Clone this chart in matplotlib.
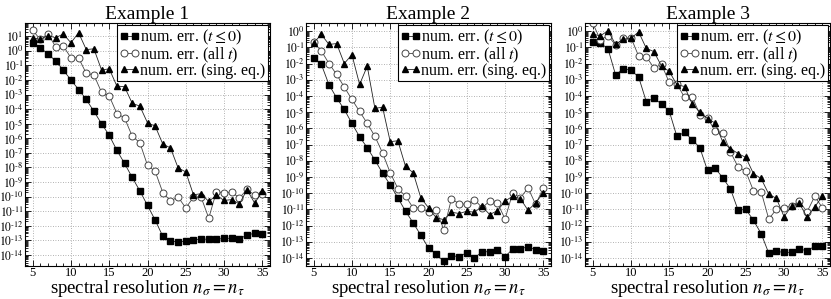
import numpy as np
import matplotlib.pyplot as plt
from matplotlib.ticker import FixedLocator, LogLocator, MultipleLocator, NullFormatter

plt.rcParams['font.family'] = ['Liberation Serif', 'DejaVu Serif']
plt.rcParams['mathtext.fontset'] = 'stix'

n = np.arange(5, 36)

# ---- Example 1 ----
ex1_neg = [3.5e0, 1.6e0, 6e-1, 2e-1, 4.7e-2, 1e-2, 2.2e-3, 4.6e-4, 7e-5, 1e-5,
           1.6e-6, 1.5e-7, 1.9e-8, 2.1e-9, 2.5e-10, 2.5e-11, 2.5e-12, 1.9e-13, 9e-14, 8e-14,
           9e-14, 1.05e-13, 1.25e-13, 1.2e-13, 1.2e-13, 1.4e-13, 1.4e-13, 1.2e-13, 2.5e-13, 3e-13,
           2.8e-13]
ex1_all = [2.5e1, 5.9e0, 1.4e1, 1.9e0, 2.1e0, 3.3e-1, 3.2e-1, 2.8e-2, 2.2e-2, 1.4e-3,
           8e-4, 5e-5, 2.5e-5, 1.4e-6, 5e-7, 1.4e-8, 5.5e-9, 1.9e-10, 5.2e-11, 9.3e-11,
           1.7e-11, 9e-11, 9.3e-11, 3.4e-12, 2.2e-10, 1.8e-10, 2.1e-10, 8e-11, 3.2e-10, 1.25e-10,
           1.6e-10]
ex1_sing = [7.8e0, 5.9e0, 1.1e1, 7.8e0, 1.4e1, 3.5e0, 1.7e1, 1.2e0, 1.35e0, 4.7e-2,
            5.8e-2, 3.8e-3, 3.4e-3, 2.5e-4, 1.6e-4, 1.15e-5, 6.9e-6, 4e-7, 2.2e-7, 9.3e-9,
            5e-9, 1.35e-10, 1.6e-10, 4.7e-11, 1.25e-10, 5.5e-11, 6.3e-11, 3.2e-11, 3e-10, 3.6e-11,
            2.3e-10]

# ---- Example 2 ----
ex2_neg = [2.3e-2, 8.9e-3, 4.9e-4, 7.6e-5, 1.45e-5, 2e-6, 3e-7, 6.3e-8, 1.1e-8, 1.7e-9,
           3.2e-10, 5.1e-11, 7.6e-12, 1.45e-12, 2.5e-13, 4.1e-14, 1.7e-14, 6e-15, 1.35e-14, 1.2e-14,
           2.1e-14, 1e-14, 2.4e-14, 2.4e-14, 3.2e-14, 1.2e-14, 3.5e-14, 3.8e-14, 4.7e-14, 3.2e-14,
           2.8e-14]
ex2_all = [2e-1, 6e-2, 1e-2, 2.1e-3, 3.5e-4, 6e-5, 1.1e-5, 2e-6, 3.2e-7, 3e-8,
           1.8e-9, 1.9e-10, 6.5e-11, 1.2e-11, 1.25e-11, 7e-12, 9e-12, 5.6e-13, 4.5e-11, 2.2e-11,
           2e-11, 4e-11, 1.25e-11, 3.2e-11, 2.5e-11, 2.5e-12, 1.05e-10, 5e-11, 2.1e-10, 2e-11,
           2.1e-10]
ex2_sing = [1.9e-1, 6.2e-1, 1.5e-1, 1.7e-1, 1e-2, 3.5e-2, 5.1e-4, 6.8e-3, 1.7e-5, 2e-5,
            1.5e-7, 1.7e-7, 4.4e-9, 1.8e-9, 5.1e-11, 1.25e-11, 3e-12, 2.3e-12, 6.6e-12, 5.5e-12,
            7.6e-12, 6.6e-12, 1.5e-11, 4.7e-12, 8.3e-12, 3.2e-11, 6.5e-11, 4.5e-11, 8.7e-12, 2.5e-11,
            1.05e-10]

# ---- Example 3 ----
ex3_neg = [2.1e-1, 1.8e-1, 8.3e-2, 1.95e-3, 4.9e-3, 3.8e-3, 1.5e-3, 4.5e-5, 7e-5, 3.2e-5,
           1.15e-5, 3.2e-7, 5.6e-7, 2e-7, 6.3e-8, 2.5e-9, 3.5e-9, 8.7e-10, 1.8e-10, 8.7e-12,
           1e-11, 2.1e-12, 3.2e-13, 1.95e-14, 2.5e-14, 2.2e-14, 2.2e-14, 3.5e-14, 2.8e-14, 5.1e-14,
           5.6e-14]
ex3_all = [3.2e0, 2.9e-1, 5.1e-1, 1.4e-1, 3.5e-1, 4e-1, 2.9e-2, 2.6e-2, 5.4e-3, 8.7e-3,
           6.8e-4, 5.6e-4, 8e-5, 9e-5, 7e-6, 4.5e-6, 6.5e-7, 5.4e-7, 3.5e-8, 4e-9,
           2.2e-9, 1.4e-10, 1.25e-10, 2.5e-12, 1e-11, 1.25e-11, 1.6e-11, 3.2e-11, 6.8e-12, 6.3e-11,
           1.25e-11]
ex3_sing = [6.5e-1, 5.1e-1, 1.05e0, 1.5e-1, 3.2e-1, 3.5e-1, 9e-1, 8.7e-2, 5.4e-2, 6.8e-3,
            3.3e-3, 4.9e-4, 3.8e-4, 3.2e-5, 1e-5, 4e-6, 2.1e-6, 1.4e-7, 5.6e-8, 2.75e-8,
            1.6e-8, 1.6e-9, 8e-10, 8.7e-11, 4.7e-11, 3.5e-12, 1.6e-11, 2.3e-11, 3.3e-12, 1.4e-11,
            6.3e-11]

titles = ['Example 1', 'Example 2', 'Example 3']
series = [(ex1_neg, ex1_all, ex1_sing),
          (ex2_neg, ex2_all, ex2_sing),
          (ex3_neg, ex3_all, ex3_sing)]
ylims = [(10**-14.75, 10**1.9), (10**-14.5, 10**0.5), (10**-14.5, 10**0.5)]
ytop = [1, 0, 0]
labels = [r'num. err. ($t \leq 0$)', r'num. err. (all $t$)', r'num. err. (sing. eq.)']

fig = plt.figure(figsize=(8.31, 2.99), dpi=100)
lefts = [25/831, 306/831, 585/831]
bottom = 33/299
height = 243/299
width = 245/831

for i in range(3):
    ax = fig.add_axes([lefts[i], bottom, width, height])
    neg, al, sing = series[i]
    ax.semilogy(n, neg, color='#222222', lw=0.6, marker='s', ms=4.2,
                mfc='black', mec='black', label=labels[0])
    ax.semilogy(n, al, color='#444444', lw=0.6, marker='o', ms=5,
                mfc='white', mec='#444444', mew=0.7, label=labels[1])
    ax.semilogy(n, sing, color='#222222', lw=0.6, marker='^', ms=4.8,
                mfc='black', mec='black', label=labels[2])

    ax.set_xlim(4, 36)
    ax.set_ylim(*ylims[i])
    ax.xaxis.set_major_locator(MultipleLocator(5))
    ax.xaxis.set_minor_locator(MultipleLocator(1))
    ax.yaxis.set_major_locator(FixedLocator([10.0**k for k in range(-14, ytop[i] + 1)]))
    ax.yaxis.set_minor_locator(LogLocator(base=10, subs=np.arange(2, 10), numticks=100))
    ax.yaxis.set_minor_formatter(NullFormatter())
    ax.set_yticklabels([r'$10^{\text{%d}}$' % k for k in range(-14, ytop[i] + 1)])
    ax.tick_params(which='both', direction='in', top=True, right=True, width=0.6)
    ax.tick_params(which='major', length=4)
    ax.tick_params(axis='x', which='major', labelsize=9, pad=1)
    ax.tick_params(axis='y', which='major', labelsize=8.5, pad=1)
    ax.tick_params(which='minor', length=2)
    ax.grid(True, which='major', ls=(0, (1, 2)), color='#999999', lw=0.6)
    for s in ax.spines.values():
        s.set_linewidth(0.8)

    ax.set_title(titles[i], fontsize=14, pad=2)
    ax.set_xlabel(r'spectral resolution $n_\sigma = n_\tau$', fontsize=13.5, va='baseline')
    ax.xaxis.set_label_coords(0.5, -0.113)

    leg = ax.legend(loc='upper right', fontsize=11.5, numpoints=2, handlelength=1.3,
                    handletextpad=0.0, borderpad=0.15, labelspacing=-0.1,
                    borderaxespad=0.15, fancybox=False, framealpha=1)
    leg.get_frame().set_edgecolor('black')
    leg.get_frame().set_linewidth(0.8)

fig.savefig('out.png', dpi=100)
